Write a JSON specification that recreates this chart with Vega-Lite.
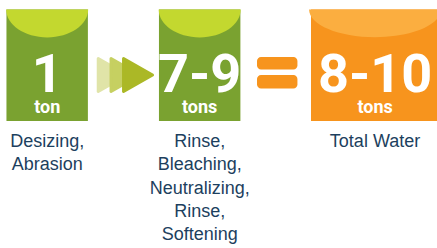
{
  "$schema": "https://vega.github.io/schema/vega-lite/v6.json",
  "width": 437,
  "height": 248,
  "padding": 0,
  "autosize": {"type": "none"},
  "background": "white",
  "config": {"view": {"stroke": null}},
  "datasets": {
    "steps": [
      {"step": "1", "amount": "1", "unit": "ton", "kind": "process", "next": "then"},
      {"step": "2", "amount": "7-9", "unit": "tons", "kind": "process", "next": "equals"},
      {"step": "3", "amount": "8-10", "unit": "tons", "kind": "total", "next": "none"}
    ],
    "labels": [
      {"step": "1", "line": 1, "text": "Desizing,"},
      {"step": "1", "line": 2, "text": "Abrasion"},
      {"step": "2", "line": 1, "text": "Rinse,"},
      {"step": "2", "line": 2, "text": "Bleaching,"},
      {"step": "2", "line": 3, "text": "Neutralizing,"},
      {"step": "2", "line": 4, "text": "Rinse,"},
      {"step": "2", "line": 5, "text": "Softening"},
      {"step": "3", "line": 1, "text": "Total Water"}
    ]
  },
  "resolve": {"scale": {"y": "independent"}},
  "layer": [
    {
      "data": {"name": "steps"},
      "layer": [
        {
          "transform": [{"filter": "datum.kind == 'process'"}],
          "mark": {"type": "bar", "color": "#7aa230"},
          "encoding": {
            "x": {"field": "step", "type": "nominal", "bandPosition": 0.003, "scale": {"type": "band", "domain": ["1", "2", "3"], "range": [6, 463.5], "paddingInner": 0, "paddingOuter": 0}, "axis": null},
            "x2": {"field": "step", "bandPosition": 0.537},
            "y": {"datum": 9.5, "type": "quantitative", "scale": {"domain": [0, 248], "reverse": true, "nice": false, "zero": false}, "axis": null},
            "y2": {"datum": 121}
          }
        },
        {
          "transform": [{"filter": "datum.kind == 'total'"}],
          "mark": {"type": "bar", "color": "#f7941d"},
          "encoding": {
            "x": {"field": "step", "type": "nominal", "bandPosition": 0, "axis": null},
            "x2": {"field": "step", "bandPosition": 0.85},
            "y": {"datum": 9.5, "type": "quantitative", "axis": null},
            "y2": {"datum": 121}
          }
        },
        {
          "transform": [{"filter": "datum.kind == 'process'"}],
          "mark": {"type": "point", "filled": true, "opacity": 1, "strokeWidth": 0, "color": "#c3d82f", "shape": "M-1,0 A1,0.68 0 0 0 1,0 Z", "size": 6724},
          "encoding": {
            "x": {"field": "step", "type": "nominal", "bandPosition": 0.27, "axis": null},
            "y": {"datum": 9.5, "type": "quantitative", "axis": null}
          }
        },
        {
          "transform": [{"filter": "datum.kind == 'total'"}],
          "mark": {"type": "point", "filled": true, "opacity": 1, "strokeWidth": 0, "color": "#fbae40", "shape": "M-1,0 A1,0.42 0 0 0 1,0 Z", "size": 17424},
          "encoding": {
            "x": {"field": "step", "type": "nominal", "bandPosition": 0.42, "axis": null},
            "y": {"datum": 9.5, "type": "quantitative", "axis": null}
          }
        },
        {
          "transform": [{"filter": "datum.next == 'then'"}],
          "mark": {"type": "point", "filled": true, "opacity": 1, "color": "#e0e4a8", "stroke": "#e0e4a8", "strokeWidth": 3, "strokeJoin": "round", "shape": "M-0.88,-1 L0.88,0 L-0.88,1 Z", "size": 1089},
          "encoding": {
            "x": {"field": "step", "type": "nominal", "bandPosition": 0.70, "axis": null},
            "y": {"datum": 75, "type": "quantitative", "axis": null}
          }
        },
        {
          "transform": [{"filter": "datum.next == 'then'"}],
          "mark": {"type": "point", "filled": true, "opacity": 1, "color": "#c6d061", "stroke": "#c6d061", "strokeWidth": 3, "strokeJoin": "round", "shape": "M-0.88,-1 L0.88,0 L-0.88,1 Z", "size": 1089},
          "encoding": {
            "x": {"field": "step", "type": "nominal", "bandPosition": 0.784, "axis": null},
            "y": {"datum": 75, "type": "quantitative", "axis": null}
          }
        },
        {
          "transform": [{"filter": "datum.next == 'then'"}],
          "mark": {"type": "point", "filled": true, "opacity": 1, "color": "#abb826", "stroke": "#abb826", "strokeWidth": 3, "strokeJoin": "round", "shape": "M-0.88,-1 L0.88,0 L-0.88,1 Z", "size": 1089},
          "encoding": {
            "x": {"field": "step", "type": "nominal", "bandPosition": 0.866, "axis": null},
            "y": {"datum": 75, "type": "quantitative", "axis": null}
          }
        },
        {
          "transform": [{"filter": "datum.next == 'equals'"}],
          "mark": {"type": "bar", "color": "#f7941d", "cornerRadius": 4},
          "encoding": {
            "x": {"field": "step", "type": "nominal", "bandPosition": 0.646, "axis": null},
            "x2": {"field": "step", "bandPosition": 0.911},
            "y": {"datum": 57, "type": "quantitative", "axis": null},
            "y2": {"datum": 69.5}
          }
        },
        {
          "transform": [{"filter": "datum.next == 'equals'"}],
          "mark": {"type": "bar", "color": "#f7941d", "cornerRadius": 4},
          "encoding": {
            "x": {"field": "step", "type": "nominal", "bandPosition": 0.646, "axis": null},
            "x2": {"field": "step", "bandPosition": 0.911},
            "y": {"datum": 75, "type": "quantitative", "axis": null},
            "y2": {"datum": 88.5}
          }
        },
        {
          "transform": [{"filter": "datum.kind == 'process'"}],
          "mark": {"type": "text", "color": "white", "font": "Roboto", "fontWeight": "bold", "fontSize": 54, "align": "center", "baseline": "alphabetic"},
          "encoding": {
            "x": {"field": "step", "type": "nominal", "bandPosition": 0.27, "axis": null},
            "y": {"datum": 92, "type": "quantitative", "axis": null},
            "text": {"field": "amount"}
          }
        },
        {
          "transform": [{"filter": "datum.kind == 'total'"}],
          "mark": {"type": "text", "color": "white", "font": "Roboto", "fontWeight": "bold", "fontSize": 54, "align": "center", "baseline": "alphabetic"},
          "encoding": {
            "x": {"field": "step", "type": "nominal", "bandPosition": 0.42, "axis": null},
            "y": {"datum": 92, "type": "quantitative", "axis": null},
            "text": {"field": "amount"}
          }
        },
        {
          "transform": [{"filter": "datum.kind == 'process'"}],
          "mark": {"type": "text", "color": "white", "font": "Roboto", "fontWeight": "bold", "fontSize": 18, "align": "center", "baseline": "alphabetic"},
          "encoding": {
            "x": {"field": "step", "type": "nominal", "bandPosition": 0.27, "axis": null},
            "y": {"datum": 113, "type": "quantitative", "axis": null},
            "text": {"field": "unit"}
          }
        },
        {
          "transform": [{"filter": "datum.kind == 'total'"}],
          "mark": {"type": "text", "color": "white", "font": "Roboto", "fontWeight": "bold", "fontSize": 18, "align": "center", "baseline": "alphabetic"},
          "encoding": {
            "x": {"field": "step", "type": "nominal", "bandPosition": 0.42, "axis": null},
            "y": {"datum": 113, "type": "quantitative", "axis": null},
            "text": {"field": "unit"}
          }
        }
      ]
    },
    {
      "data": {"name": "labels"},
      "layer": [
        {
          "transform": [{"filter": "datum.step != '3'"}],
          "mark": {"type": "text", "color": "#1d3f5e", "font": "Liberation Sans", "fontSize": 18, "align": "center", "baseline": "alphabetic"},
          "encoding": {
            "x": {"field": "step", "type": "nominal", "bandPosition": 0.27, "axis": null},
            "y": {"field": "line", "type": "quantitative", "scale": {"domain": [-5.323, 5.344], "reverse": true, "nice": false, "zero": false}, "axis": null},
            "text": {"field": "text"}
          }
        },
        {
          "transform": [{"filter": "datum.step == '3'"}],
          "mark": {"type": "text", "color": "#1d3f5e", "font": "Liberation Sans", "fontSize": 18, "align": "center", "baseline": "alphabetic"},
          "encoding": {
            "x": {"field": "step", "type": "nominal", "bandPosition": 0.42, "axis": null},
            "y": {"field": "line", "type": "quantitative", "axis": null},
            "text": {"field": "text"}
          }
        }
      ]
    }
  ]
}
